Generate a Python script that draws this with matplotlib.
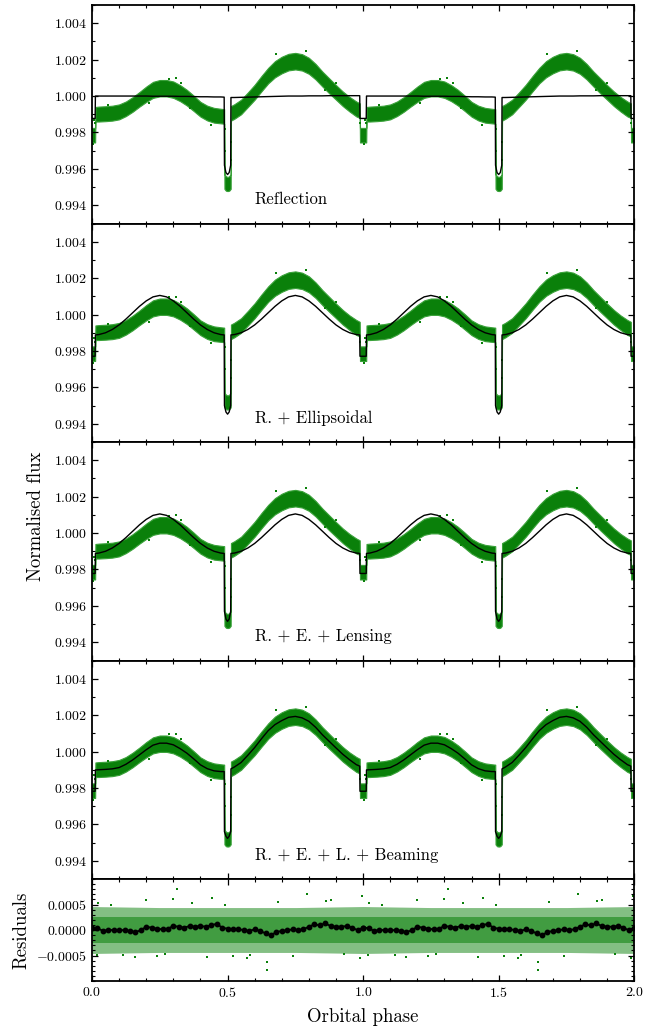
import numpy as np
import matplotlib
matplotlib.use("Agg")
import matplotlib.pyplot as plt
from matplotlib.ticker import MultipleLocator, FixedLocator, FormatStrFormatter

plt.rcParams['font.family'] = 'serif'
plt.rcParams['font.serif'] = ['cmr10']
plt.rcParams['mathtext.fontset'] = 'cm'
plt.rcParams['axes.formatter.use_mathtext'] = True

# One orbital period, repeated for phase 1-2
phase = [0.0, 0.0115, 0.0125, 0.025, 0.05, 0.075, 0.1, 0.125, 0.15, 0.175, 0.2,
         0.225, 0.25, 0.275, 0.3, 0.325, 0.35, 0.375, 0.4, 0.425, 0.45, 0.475,
         0.4875, 0.4885, 0.494, 0.5, 0.506, 0.5115, 0.5125, 0.525, 0.55, 0.575,
         0.6, 0.625, 0.65, 0.675, 0.7, 0.725, 0.75, 0.775, 0.8, 0.825, 0.85,
         0.875, 0.9, 0.925, 0.95, 0.975, 0.9875, 0.9885, 1.0]

# green data cloud (lower / upper edge of the dense band)
data_lo = [0.99745, 0.99745, 0.99860, 0.99860, 0.99862, 0.99865, 0.99872, 0.99890,
           0.99914, 0.99942, 0.99968, 0.99990, 0.99998, 0.99998, 0.99990, 0.99972,
           0.99948, 0.99918, 0.99887, 0.99866, 0.99854, 0.99850, 0.99848, 0.99490,
           0.99480, 0.99478, 0.99480, 0.99490, 0.99865, 0.99875, 0.99900, 0.99940,
           0.99980, 1.00026, 1.00070, 1.00103, 1.00125, 1.00141, 1.00146, 1.00140,
           1.00122, 1.00091, 1.00052, 1.00015, 0.99980, 0.99945, 0.99915, 0.99888,
           0.99880, 0.99745, 0.99745]
data_hi = [0.99825, 0.99825, 0.99940, 0.99942, 0.99944, 0.99947, 0.99954, 0.99970,
           0.99994, 1.00022, 1.00052, 1.00078, 1.00088, 1.00088, 1.00080, 1.00060,
           1.00034, 1.00002, 0.99968, 0.99947, 0.99935, 0.99930, 0.99928, 0.99570,
           0.99560, 0.99555, 0.99560, 0.99570, 0.99945, 0.99955, 0.99980, 1.00020,
           1.00062, 1.00110, 1.00155, 1.00192, 1.00216, 1.00232, 1.00237, 1.00230,
           1.00210, 1.00176, 1.00134, 1.00097, 1.00060, 1.00025, 0.99995, 0.99970,
           0.99960, 0.99825, 0.99825]
# loose points outside the band
out_ph = [0.004, 0.008, 0.0105, 0.489, 0.4895, 0.511, 0.5115, 0.9895, 0.31, 0.285, 0.79,
          0.44, 0.90, 0.33, 0.21, 0.68, 0.86, 0.06, 0.36]
out_fl = [0.99735, 0.99870, 0.99850, 0.99820, 0.99700, 0.99750, 0.99650, 0.99850,
          1.00098, 1.00095, 1.00245, 0.99842, 1.00070, 1.00070, 0.99960, 1.00230,
          1.00035, 0.99950, 0.99935]

# models
model_refl = [0.99877, 0.99877, 1.00000, 1.00000, 1.00000, 1.00000, 1.00000, 1.00000,
              1.00000, 1.00000, 1.00000, 0.99999, 0.99999, 0.99999, 0.99999, 0.99998,
              0.99998, 0.99997, 0.99996, 0.99996, 0.99995, 0.99995, 0.99994, 0.99620,
              0.99580, 0.99569, 0.99580, 0.99620, 0.99992, 0.99992, 0.99993, 0.99994,
              0.99995, 0.99996, 0.99997, 0.99998, 0.99999, 1.00000, 1.00000, 1.00000,
              1.00001, 1.00001, 1.00001, 1.00002, 1.00002, 1.00002, 1.00002, 1.00002,
              1.00002, 0.99877, 0.99877]
model_ell = [0.99771, 0.99771, 0.99888, 0.99890, 0.99900, 0.99918, 0.99943, 0.99975,
             1.00010, 1.00045, 1.00075, 1.00097, 1.00105, 1.00097, 1.00075, 1.00045,
             1.00010, 0.99975, 0.99943, 0.99918, 0.99900, 0.99890, 0.99888, 0.99500,
             0.99465, 0.99453, 0.99465, 0.99500, 0.99888, 0.99890, 0.99900, 0.99918,
             0.99943, 0.99975, 1.00010, 1.00045, 1.00075, 1.00097, 1.00105, 1.00097,
             1.00075, 1.00045, 1.00010, 0.99975, 0.99943, 0.99918, 0.99900, 0.99890,
             0.99888, 0.99771, 0.99771]
model_lens = [0.99778, 0.99778, 0.99888, 0.99890, 0.99900, 0.99918, 0.99943, 0.99975,
              1.00010, 1.00045, 1.00075, 1.00097, 1.00105, 1.00097, 1.00075, 1.00045,
              1.00010, 0.99975, 0.99943, 0.99918, 0.99900, 0.99890, 0.99888, 0.99570,
              0.99528, 0.99515, 0.99528, 0.99570, 0.99888, 0.99890, 0.99900, 0.99918,
              0.99943, 0.99975, 1.00010, 1.00045, 1.00075, 1.00097, 1.00105, 1.00097,
              1.00075, 1.00045, 1.00010, 0.99975, 0.99943, 0.99918, 0.99900, 0.99890,
              0.99888, 0.99778, 0.99778]
model_beam = [0.99782, 0.99782, 0.99899, 0.99900, 0.99902, 0.99905, 0.99912, 0.99930,
              0.99954, 0.99982, 1.00010, 1.00035, 1.00046, 1.00046, 1.00037, 1.00016,
              0.99991, 0.99960, 0.99927, 0.99906, 0.99894, 0.99890, 0.99890, 0.99560,
              0.99535, 0.99523, 0.99535, 0.99560, 0.99905, 0.99915, 0.99940, 0.99980,
              1.00022, 1.00070, 1.00115, 1.00148, 1.00170, 1.00188, 1.00193, 1.00185,
              1.00166, 1.00133, 1.00092, 1.00056, 1.00020, 0.99985, 0.99955, 0.99928,
              0.99920, 0.99782, 0.99782]

# residuals: binned values (black) and spread of the green cloud
bin_ph = [0.0, 0.02, 0.04, 0.06, 0.08, 0.10, 0.12, 0.14, 0.16, 0.18, 0.20, 0.22, 0.24,
          0.26, 0.28, 0.30, 0.32, 0.34, 0.36, 0.38, 0.40, 0.42, 0.44, 0.46, 0.48, 0.50,
          0.52, 0.54, 0.56, 0.58, 0.60, 0.62, 0.64, 0.66, 0.68, 0.70, 0.72, 0.74, 0.76,
          0.78, 0.80, 0.82, 0.84, 0.86, 0.88, 0.90, 0.92, 0.94, 0.96, 0.98, 1.0]
bin_res = [4.5e-5, 3.9e-5, -1.9e-5, 0.0, 0.0, -0.6e-5, 0.0, -1.9e-5, -3.9e-5, -0.6e-5,
           6.5e-5, 4.5e-5, 2.6e-5, 1.3e-5, 2.6e-5, 7.8e-5, 6.5e-5, 4.5e-5, 7.8e-5, 6.5e-5,
           7.8e-5, 6.5e-5, 9.1e-5, 12.3e-5, 4.5e-5, 2.6e-5, 1.3e-5, 1.3e-5, 0.0, -1.9e-5,
           1.3e-5, -1.9e-5, -6.5e-5, -10.4e-5, -3.9e-5, -1.9e-5, -0.6e-5, 1.3e-5, 0.0,
           1.3e-5, 6.5e-5, 11.0e-5, 9.1e-5, 13.0e-5, 7.8e-5, 6.5e-5, 6.5e-5, 7.8e-5,
           4.5e-5, -0.6e-5, 4.5e-5]
band_ph = [0.0, 0.25, 0.5, 0.75, 1.0]
res_outer = [0.00046, 0.00044, 0.00044, 0.00044, 0.00046]
res_inner = [0.00026, 0.00026, 0.00026, 0.00026, 0.00026]
res_out_ph = [0.313, 0.443, 0.645, 0.645, 0.794, 0.023, 0.017, 0.198, 0.297, 0.116, 0.159,
              0.424, 0.571, 0.584, 0.686, 0.239, 0.996, 0.989, 0.862, 0.883, 0.52, 0.37,
              0.07, 0.27, 0.49, 0.74, 0.93]
res_out_val = [0.00080, 0.00063, -0.00078, -0.00062, 0.00071, 0.00053, -0.00049, 0.00058,
               0.00061, -0.00049, -0.00052, -0.00052, -0.00054, -0.00049, 0.00055, -0.00050,
               0.00066, -0.00054, 0.00056, 0.00058, -0.00050, 0.00052, 0.00050, -0.00048,
               0.00050, -0.00050, -0.00048]

labels = ["Reflection", "R. + Ellipsoidal", "R. + E. + Lensing", "R. + E. + L. + Beaming"]
models = [model_refl, model_ell, model_lens, model_beam]


def two_periods(x, y):
    x = np.asarray(x)
    return np.concatenate([x, x + 1]), np.concatenate([y, y])


green = "#0a800a"
fig = plt.figure(figsize=(6.62, 10.27), dpi=100)
gs = fig.add_gridspec(5, 1, height_ratios=[218.5, 218.5, 218.5, 218.5, 102], hspace=0,
                      left=0.139, right=0.958, top=1 - 5 / 1027, bottom=1 - 981 / 1027)

ph2, lo2 = two_periods(phase, data_lo)
_, hi2 = two_periods(phase, data_hi)
oph2, ofl2 = two_periods(out_ph, out_fl)

axes = []
for i in range(4):
    ax = fig.add_subplot(gs[i])
    ax.fill_between(ph2, lo2, hi2, facecolor=green, lw=0.8, edgecolor="#3aa23a")
    ax.scatter(oph2, ofl2, s=4, color=green, marker="s", lw=0)
    mx, my = two_periods(phase, models[i])
    ax.plot(mx, my, color="black", lw=1.0)
    ax.text(0.6, 0.9943, labels[i], fontsize=12, ha="left", va="center")
    ax.set_ylim(0.993, 1.005)
    ax.yaxis.set_major_locator(MultipleLocator(0.002))
    ax.yaxis.set_minor_locator(MultipleLocator(0.001))
    ax.yaxis.set_major_formatter(FormatStrFormatter("$%.3f$"))
    ax.tick_params(labelbottom=False)
    axes.append(ax)

axr = fig.add_subplot(gs[4])
bx, bo_hi = two_periods(band_ph, res_outer)
_, bi_hi = two_periods(band_ph, res_inner)
axr.fill_between(bx, -bo_hi, bo_hi, color=green, alpha=0.5, lw=0)
axr.fill_between(bx, -bi_hi, bi_hi, color=green, alpha=0.55, lw=0)
rx, rv = two_periods(res_out_ph, res_out_val)
axr.scatter(rx, rv, s=4, color=green, marker="s", lw=0)
kx, kv = two_periods(bin_ph, bin_res)
axr.plot(kx, kv, color="black", lw=1.3, marker="o", ms=3.2)
axr.set_ylim(-0.001, 0.001)
axr.yaxis.set_major_locator(FixedLocator([-0.0005, 0.0, 0.0005]))
axr.yaxis.set_minor_locator(MultipleLocator(0.0001))
axr.yaxis.set_major_formatter(FormatStrFormatter("$%.4f$"))
axes.append(axr)

for ax in axes:
    ax.set_xlim(0, 2)
    ax.xaxis.set_major_locator(MultipleLocator(0.5))
    ax.xaxis.set_minor_locator(MultipleLocator(0.1))
    ax.tick_params(which="both", direction="in", top=True, right=True, labelsize=10)
    ax.tick_params(which="major", length=4.5, width=0.9)
    ax.tick_params(which="minor", length=2.5, width=0.8)
    for s in ax.spines.values():
        s.set_linewidth(1.3)

axr.xaxis.set_major_formatter(FormatStrFormatter("$%.1f$"))
fig.text(363 / 662, 1 - 1017 / 1027, "Orbital phase", fontsize=13.5, ha="center", va="center")
fig.text(36 / 662, 1 - 516 / 1027, "Normalised flux", fontsize=13.5, rotation=90, ha="center", va="center")
fig.text(21 / 662, 1 - 930 / 1027, "Residuals", fontsize=13.5, rotation=90, ha="center", va="center")

fig.savefig("out.png", dpi=100)
